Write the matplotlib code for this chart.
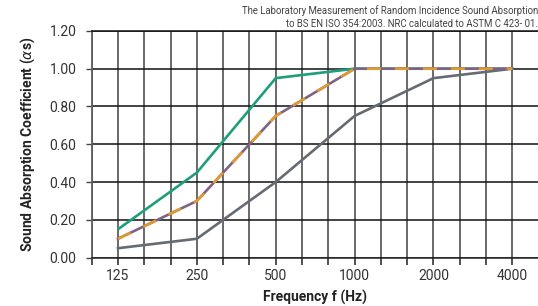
import matplotlib
matplotlib.use("Agg")
import matplotlib.pyplot as plt
from matplotlib.ticker import MultipleLocator, FixedLocator

plt.rcParams["font.family"] = ["Roboto", "DejaVu Sans"]

freqs = ["125", "250", "500", "1000", "2000", "4000"]
green_vals = [0.15, 0.45, 0.95, 1.00, 1.00, 1.00]
dashed_vals = [0.10, 0.30, 0.75, 1.00, 1.00, 1.00]
gray_vals = [0.05, 0.10, 0.40, 0.75, 0.95, 1.00]
y_ticks = [0.0, 0.2, 0.4, 0.6, 0.8, 1.0, 1.2]

title = ("The Laboratory Measurement of Random Incidence Sound Absorption\n"
         "to BS EN ISO 354:2003. NRC calculated to ASTM C 423- 01.")

fig = plt.figure(figsize=(5.38, 3.06), dpi=100)
ax = fig.add_axes([0.1704, 0.158, 0.8296, 0.741])

x = list(range(len(freqs)))
lw = 1.9
ax.plot(x, green_vals, color="#1e9e7a", lw=lw, zorder=3, solid_capstyle="butt")
ax.plot(x, gray_vals, color="#656b71", lw=lw, zorder=3)
ax.plot(x, dashed_vals, color="#7d6483", lw=lw, zorder=4)
ax.plot(x, dashed_vals, color="#e09a2e", lw=lw, zorder=5,
        dashes=(5.3, 5.3), dash_capstyle="butt")

ax.set_xlim(-1 / 3, 5.325)
ax.set_ylim(0, 1.2)
ax.xaxis.set_major_locator(FixedLocator(x))
ax.set_xticklabels(freqs)
ax.xaxis.set_minor_locator(MultipleLocator(1 / 3))
ax.set_yticks(y_ticks)
ax.set_yticklabels([f"{v:.2f}" for v in y_ticks])

ax.grid(axis="x", which="both", color="#5e5e5e", lw=1.3, zorder=1)
ax.grid(axis="y", which="major", color="#111111", lw=1.1, zorder=1)
ax.set_axisbelow(True)

ax.spines["right"].set_visible(False)
ax.spines["top"].set_color("#111111")
ax.spines["top"].set_linewidth(1.1)
ax.spines["bottom"].set_color("#222222")
ax.spines["bottom"].set_linewidth(1.1)
ax.spines["left"].set_color("#5e5e5e")
ax.spines["left"].set_linewidth(1.3)

ax.tick_params(axis="x", which="both", length=5, width=1.2, color="#333333",
               labelsize=10, labelcolor="#333333", pad=3)
ax.tick_params(axis="y", which="major", length=4, width=1.0, color="#444444",
               labelsize=10, labelcolor="#333333", pad=7)

ax.set_xlabel("Frequency f (Hz)", fontsize=10, fontweight="bold",
              color="#222222", labelpad=5)
ax.set_ylabel(r"Sound Absorption Coefficient ($\alpha$s)", fontsize=10,
              fontweight="bold", color="#222222", labelpad=9)

fig.text(1.0, 0.982, title, ha="right", va="top", fontsize=6.9,
         color="#444444", linespacing=1.35, multialignment="right")

fig.savefig("out.png", dpi=100)
